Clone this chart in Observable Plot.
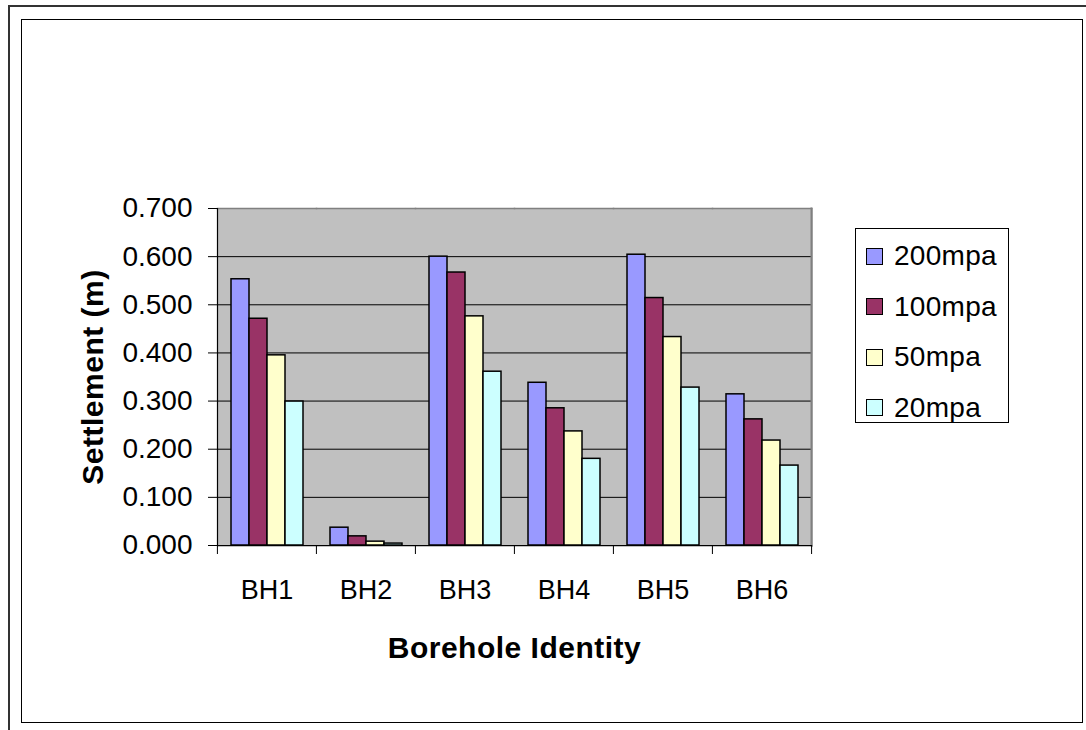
<!DOCTYPE html>
<html>
<head>
<meta charset="utf-8">
<script src="https://cdn.jsdelivr.net/npm/d3@7"></script>
<script src="https://cdn.jsdelivr.net/npm/@observablehq/plot@0.6"></script>
<style>
  html, body { margin: 0; padding: 0; background: #fff; }
  #wrap { position: relative; width: 1086px; height: 730px; overflow: hidden; font-family: "Liberation Sans", Arial, sans-serif; }
  #chart { position: absolute; left: 0; top: 0; }
  #chart svg text { font-family: "Liberation Sans", Arial, sans-serif; fill: #000; }
  #chart g[aria-label="fx-axis label"] text,
  #chart g[aria-label="y-axis label"] text { font-weight: bold; font-size: 30px; letter-spacing: 0.5px; }
  .outerTop { position: absolute; left: 9px; top: 5px; width: 1077px; height: 2px; background: #333; }
  .outerLeft { position: absolute; left: 8px; top: 5px; width: 2px; height: 725px; background: #333; }
  .inner { position: absolute; left: 21px; top: 19px; width: 1060px; height: 702px; border: 1px solid #000; box-sizing: content-box; }
  #legend { position: absolute; left: 855px; top: 228px; width: 152px; height: 193px; border: 1px solid #000; background: #fff; }
  .item { position: absolute; left: 10px; height: 30px; display: flex; align-items: center; font-size: 28px; letter-spacing: 0.3px; }
  .sw { width: 15px; height: 15px; border: 1px solid #000; margin-right: 11px; }
</style>
</head>
<body>
<div id="wrap">
  <div class="outerTop"></div>
  <div class="outerLeft"></div>
  <div class="inner"></div>
  <div id="chart"></div>
  <div id="legend"></div>
</div>
<script>
const categories = ["BH1", "BH2", "BH3", "BH4", "BH5", "BH6"];
const series = ["200mpa", "100mpa", "50mpa", "20mpa"];
const v200 = [0.553, 0.037, 0.600, 0.338, 0.604, 0.314];
const v100 = [0.471, 0.019, 0.567, 0.285, 0.514, 0.262];
const v50  = [0.395, 0.008, 0.476, 0.237, 0.433, 0.218];
const v20  = [0.299, 0.004, 0.361, 0.180, 0.328, 0.166];
const colors = ["#9999FF", "#993366", "#FFFFCC", "#CCFFFF"];
const yTicks = [0, 0.1, 0.2, 0.3, 0.4, 0.5, 0.6, 0.7];
const gridTicks = [0.1, 0.2, 0.3, 0.4, 0.5, 0.6];

const valuesBySeries = [v200, v100, v50, v20];
const data = [];
categories.forEach((c, i) => {
  series.forEach((s, j) => data.push({cat: c, series: s, value: valuesBySeries[j][i]}));
});

const W = 1086, H = 730, mL = 216, mR = 275, mT = 208, mB = 185;
const step = (W - mL - mR) / categories.length;

const chart = Plot.plot({
  width: W, height: H,
  marginLeft: mL, marginRight: mR, marginTop: mT, marginBottom: mB,
  style: {background: "transparent", fontFamily: "Liberation Sans, Arial, sans-serif", color: "#000"},
  fx: {domain: categories, paddingInner: 0, paddingOuter: 0},
  x: {domain: series, paddingInner: 0, paddingOuter: 0.75, axis: null},
  y: {domain: [0, 0.7]},
  color: {domain: series, range: colors},
  marks: [
    Plot.frame({fill: "#C0C0C0", stroke: "#C0C0C0", strokeWidth: 2, shapeRendering: "crispEdges"}),
    Plot.gridY({ticks: gridTicks, stroke: "#000", strokeOpacity: 1, strokeWidth: 1}),
    Plot.frame({anchor: "top", stroke: "#808080", strokeWidth: 1.5}),
    Plot.frame({anchor: "right", stroke: "#808080", strokeWidth: 2, facetAnchor: "right"}),
    Plot.barY(data, {fx: "cat", x: "series", y: "value", fill: "series", stroke: "#000", strokeWidth: 1.5}),
    Plot.frame({anchor: "bottom", stroke: "#000", strokeWidth: 1.2}),
    Plot.frame({anchor: "left", stroke: "#000", strokeWidth: 1.2, facetAnchor: "left"}),
    Plot.axisY({
      ticks: yTicks, tickFormat: d3.format(".3f"), tickSize: 9, tickPadding: 16,
      fontSize: 28, stroke: "#000",
      label: "Settlement (m)", labelAnchor: "center", labelOffset: 136, labelArrow: "none"
    }),
    Plot.axisFx({
      anchor: "bottom", tickSize: 0, tickPadding: 34, fontSize: 27,
      label: "Borehole Identity", labelAnchor: "center", labelOffset: 112, labelArrow: "none"
    }),
    Plot.axisFx({anchor: "bottom", tickSize: 9, tickFormat: () => "", label: null, dx: -step / 2, stroke: "#000"}),
    Plot.axisFx({anchor: "bottom", ticks: [categories[categories.length - 1]], tickSize: 9, tickFormat: () => "", label: null, dx: step / 2, stroke: "#000"})
  ]
});
document.getElementById("chart").appendChild(chart);

const legend = document.getElementById("legend");
series.forEach((s, i) => {
  const item = document.createElement("div");
  item.className = "item";
  item.style.top = (12 + i * 50.5) + "px";
  const sw = document.createElement("div");
  sw.className = "sw";
  sw.style.background = colors[i];
  const t = document.createElement("span");
  t.textContent = s;
  item.appendChild(sw);
  item.appendChild(t);
  legend.appendChild(item);
});
</script>
</body>
</html>
